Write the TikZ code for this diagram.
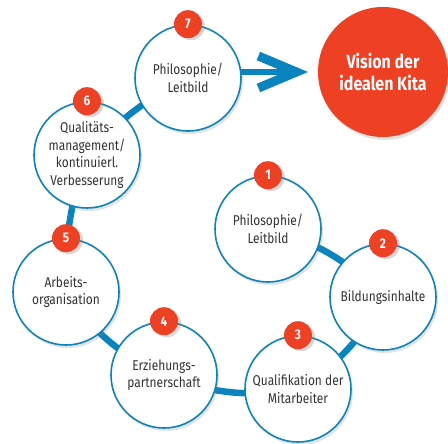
\documentclass[tikz,border=0pt]{standalone}
\usepackage{fontspec}
\setmainfont{Fira Sans}[FakeStretch=0.84]
\usetikzlibrary{arrows.meta, shadows}
\definecolor{kitablue}{HTML}{0A84BF}
\definecolor{kitared}{HTML}{EE4023}
\definecolor{kitatext}{HTML}{333333}
\pgfdeclarelayer{background}
\pgfsetlayers{background,main}

\begin{document}
\begin{tikzpicture}[
        x=1pt, y=-1pt,
        font=\fontsize{14.2}{17.5}\selectfont,
        stage/.style={circle, draw=kitablue, line width=1.6pt, fill=white,
            minimum size=106pt, inner sep=0pt, align=center, text=kitatext,
            drop shadow={shadow xshift=2pt, shadow yshift=-3pt, opacity=0.22}},
        badge/.style={circle, fill=kitared, text=white, minimum size=28pt,
            inner sep=0pt, font=\fontsize{14}{14}\selectfont\bfseries,
            drop shadow={shadow xshift=3pt, shadow yshift=-2pt, opacity=0.3}},
        vision/.style={circle, fill=kitared, text=white, minimum size=130pt,
            inner sep=0pt, align=center,
            font=\fontsize{19}{22}\selectfont\bfseries,
            drop shadow={shadow xshift=2pt, shadow yshift=-3pt, opacity=0.22}},
        link/.style={kitablue, line width=6.5pt}
    ]
        \useasboundingbox (0,0) rectangle (448,444);

        % Stationen
        \node [stage] (n1) at (268,229) {Philosophie/\\Leitbild};
        \node [stage] (n2) at (383,297) {Bildungsinhalte};
        \node [stage] (n3) at (298,389) {Qualifikation der\\Mitarbeiter};
        \node [stage] (n4) at (164,375) {Erziehungs-\\partnerschaft};
        \node [stage] (n5) at (66,292) {Arbeits-\\organisation};
        \node [stage] (n6) at (87,155) {Qualitäts-\\management/\\kontinuierl.\\Verbesserung};
        \node [stage] (n7) at (188,78) {Philosophie/\\Leitbild};
        \node [vision] (vis) at (383,72) {Vision der\\idealen Kita};
        \coordinate (tip) at (308,72);

        % Nummern
        \foreach \i in {1,...,7}
            \node [badge] (b\i) at (n\i.north) {\i};

        % Verbindungen
        \begin{pgfonlayer}{background}
            \draw[link] (n1.center) to[bend left=15] (n2.center);
            \draw[link] (n2.center) to[bend left=15] (n3.center);
            \draw[link] (n3.center) to[bend left=15] (n4.center);
            \draw[link] (n4.center) to[bend left=15] (n5.center);
            \draw[link] (n5.center) to[bend left=10] (n6.center);
            \draw[link] (n6.center) to[bend left=10] (n7.center);
            \draw[link, -{Straight Barb[length=38pt, width=32pt, line width=9pt]}]
                (n7.center |- tip) -- (tip);
        \end{pgfonlayer}
    \end{tikzpicture}
\end{document}
